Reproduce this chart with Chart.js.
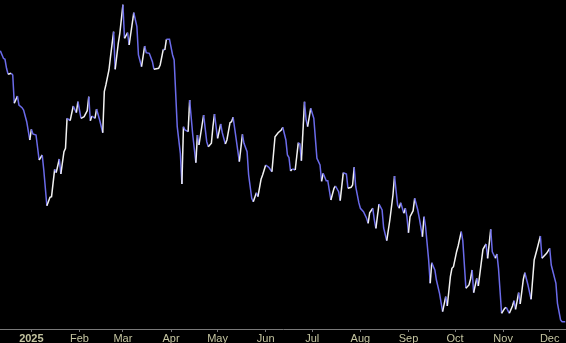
<!DOCTYPE html>
<html>
<head>
<meta charset="utf-8">
<script src="https://cdn.jsdelivr.net/npm/chart.js@4/dist/chart.umd.min.js"></script>
<style>
  html, body { margin: 0; padding: 0; background: #000; }
  #wrap { width: 566px; height: 343px; position: relative; background: #000; }
</style>
</head>
<body>
<div id="wrap"><canvas id="c"></canvas></div>
<script>
// Days since 2025-01-01 (negative = Dec 2024)
const days = [-20,-18,-17,-16,-15,-13,-12,-11,-9,-8,-6,-5,-3,-1,0,1,3,5,7,8,10,12,13,15,16,18,19,21,22,23,25,27,29,30,32,34,36,37,38,39,41,42,44,46,47,48,50,51,53,54,56,57,59,60,62,63,66,68,69,71,73,74,76,78,79,82,83,85,86,87,89,91,92,94,96,97,98,99,101,102,104,106,107,108,110,111,113,114,116,117,118,120,122,123,125,126,128,129,130,131,134,136,137,139,140,142,143,145,146,148,149,151,153,155,157,159,161,162,164,165,166,167,168,169,170,172,173,174,176,177,178,180,182,184,186,187,188,190,191,193,195,196,198,199,201,203,204,206,207,208,209,211,212,214,216,217,218,220,221,222,224,226,227,229,231,233,234,236,237,238,240,241,242,243,244,246,247,249,250,252,253,254,256,257,258,260,261,263,265,267,268,270,271,272,274,275,277,278,280,282,283,284,285,287,288,291,293,294,296,297,299,300,301,303,305,306,308,310,311,312,314,315,317,318,320,322,324,326,328,329,332,334,335,338,339,341,342,344];
const closes = [67.83,67.07,66.97,66.07,65.47,65.57,65.40,62.57,63.30,62.40,62.13,61.90,60.73,58.90,59.97,59.50,59.40,56.90,57.40,55.90,52.33,53.17,53.23,55.97,55.63,57.00,55.50,57.73,58.07,61.07,60.83,62.30,61.63,62.73,61.07,61.23,61.83,63.23,60.83,61.30,61.07,62.00,60.90,59.63,63.73,64.40,65.90,67.23,69.73,65.97,68.57,69.57,72.43,69.07,69.63,68.40,71.63,70.23,67.40,66.23,68.30,67.63,67.57,66.73,65.97,66.07,66.40,67.97,67.90,68.97,68.97,67.40,66.90,60.23,57.57,54.50,60.23,59.90,59.73,62.90,59.40,56.63,59.40,58.40,60.40,61.40,58.73,58.23,58.57,60.23,61.50,59.07,60.50,59.63,58.50,58.90,60.63,60.73,61.17,60.07,56.73,59.47,58.57,57.73,55.40,53.07,52.73,53.63,53.23,54.97,55.40,56.40,56.17,55.73,59.23,59.63,59.90,60.17,58.90,57.40,57.15,55.80,55.97,55.97,55.90,58.63,58.50,56.83,62.73,60.97,60.23,62.07,61.07,57.07,56.40,54.77,55.57,54.83,54.83,52.90,54.07,54.30,53.73,52.83,55.63,55.50,54.07,54.17,54.40,56.17,54.23,52.63,52.07,51.73,51.07,50.57,51.63,52.07,50.90,50.07,52.50,51.90,50.10,48.83,50.90,53.40,55.30,52.40,52.07,52.63,51.57,52.07,51.23,49.63,51.23,51.83,53.07,51.90,51.07,49.23,51.23,50.23,46.90,44.57,46.63,45.90,44.90,43.57,41.73,43.23,42.30,45.23,46.07,46.23,47.73,48.30,49.73,48.83,44.07,44.40,45.00,45.90,43.63,45.07,44.30,47.97,48.50,47.07,49.97,47.73,47.07,47.50,46.07,41.57,42.07,42.17,41.57,42.30,42.83,41.97,43.63,42.50,44.97,45.63,44.40,42.97,46.90,48.07,49.30,47.07,47.57,48.07,46.40,44.57,42.57,40.90,40.73,40.73];
// Month tick positions (days since 2025-01-01) and labels
const monthStarts = [0,31,59,90,120,151,181,212,243,273,304,334];
const monthLabels = ['2025','Feb','Mar','Apr','May','Jun','Jul','Aug','Sep','Oct','Nov','Dec'];

const UP = '#f2f2f2';
const DOWN = '#6b6bea';
const points = days.map((d, i) => ({ x: d, y: closes[i] }));

new Chart(document.getElementById('c'), {
  type: 'line',
  data: {
    datasets: [{
      data: points,
      borderWidth: 1.5,
      pointRadius: 0,
      tension: 0,
      fill: false,
      borderColor: DOWN,
      segment: {
        borderColor: ctx => ctx.p1.parsed.y > ctx.p0.parsed.y ? UP : DOWN
      }
    }]
  },
  options: {
    responsive: true,
    maintainAspectRatio: false,
    animation: false,
    layout: { padding: 0 },
    plugins: { legend: { display: false }, tooltip: { enabled: false } },
    scales: {
      x: {
        type: 'linear',
        min: -20.21,
        max: 344.5,
        offset: false,
        afterBuildTicks: scale => { scale.ticks = monthStarts.map(v => ({ value: v })); },
        afterFit: scale => { scale.height = 14; },
        border: { display: true, color: '#7a7a7a', width: 1 },
        grid: { display: true, drawOnChartArea: false, drawTicks: true, tickLength: 3, color: '#7a7a7a' },
        ticks: {
          autoSkip: false,
          maxRotation: 0,
          padding: 0,
          color: '#c4c4a0',
          font: ctx => ({ family: '"Liberation Sans", Arial, sans-serif', size: 11, weight: ctx.index === 0 ? 'bold' : 'normal' }),
          callback: (v, i) => monthLabels[i]
        }
      },
      y: {
        display: false,
        min: 40,
        max: 72.9
      }
    }
  }
});
</script>
</body>
</html>
